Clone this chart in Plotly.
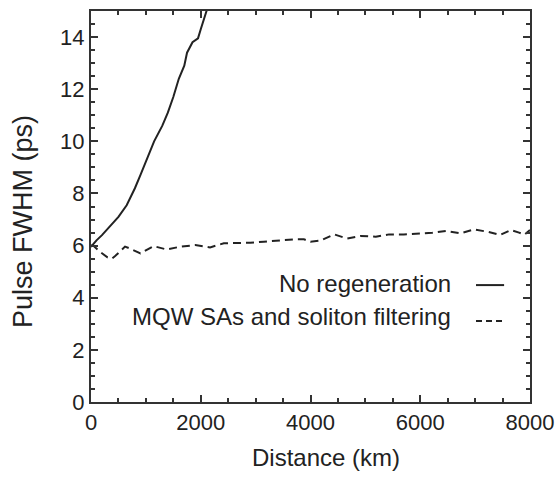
import plotly.graph_objects as go

# Pulse width versus transmission distance
dist_noreg = [0, 100, 200, 350, 500, 650, 800, 900, 1000, 1150, 1300, 1400,
              1500, 1600, 1700, 1750, 1850, 1950, 2000, 2120]
fwhm_noreg = [5.95, 6.2, 6.4, 6.75, 7.1, 7.55, 8.2, 8.7, 9.2, 10.0, 10.6, 11.1,
              11.7, 12.4, 12.9, 13.4, 13.8, 13.95, 14.3, 15.1]

dist_mqw = [0, 40, 160, 300, 380, 440, 620, 710, 900, 1140, 1380, 1630, 1900,
            2170, 2420, 2660, 2900, 3150, 3390, 3700, 3880, 4000, 4180, 4430,
            4670, 4910, 5190, 5430, 5700, 5980, 6220, 6470, 6740, 6980, 7230,
            7460, 7650, 7800, 7900, 8000]
fwhm_mqw = [6.0, 6.0, 5.77, 5.55, 5.5, 5.6, 5.96, 5.89, 5.7, 5.98, 5.85, 5.96,
            6.02, 5.93, 6.09, 6.09, 6.11, 6.15, 6.19, 6.24, 6.24, 6.15, 6.19,
            6.43, 6.27, 6.37, 6.34, 6.43, 6.43, 6.47, 6.49, 6.56, 6.47, 6.62,
            6.53, 6.41, 6.6, 6.5, 6.42, 6.6]

legend_labels = ["No regeneration", "MQW SAs and soliton filtering"]

x_ticks = [0, 2000, 4000, 6000, 8000]
y_ticks = [0, 2, 4, 6, 8, 10, 12, 14]

x_title = "Distance (km)"
y_title = "Pulse FWHM (ps)"

INK = "#222222"
AXIS = "#333333"
FONT = "Liberation Sans, Arial, sans-serif"

fig = go.Figure()
fig.add_trace(go.Scatter(x=dist_noreg, y=fwhm_noreg, mode="lines",
                         line=dict(color=INK, width=2), showlegend=False))
fig.add_trace(go.Scatter(x=dist_mqw, y=fwhm_mqw, mode="lines",
                         line=dict(color=INK, width=2, dash="8px,5px"),
                         showlegend=False))

# Legend: text on the left, line sample on the right
text_y = [0.303, 0.219]
sample_y = [0.299, 0.207]
dashes = ["solid", "6px,4px"]
for label, ty, sy, dsh in zip(legend_labels, text_y, sample_y, dashes):
    fig.add_annotation(x=0.8235, y=ty, xref="paper", yref="paper", text=label,
                       showarrow=False, xanchor="right", yanchor="middle",
                       font=dict(family=FONT, size=24, color=INK))
    fig.add_shape(type="line", xref="paper", yref="paper",
                  x0=0.877, x1=0.941, y0=sy, y1=sy,
                  line=dict(color=INK, width=2, dash=dsh))

# Axis titles
fig.add_annotation(x=0.535, y=-0.141, xref="paper", yref="paper",
                   text=x_title, showarrow=False, xanchor="center",
                   yanchor="middle", font=dict(family=FONT, size=24, color=INK))
fig.add_annotation(x=-0.155, y=0.463, xref="paper", yref="paper",
                   text=y_title, showarrow=False, textangle=-90,
                   xanchor="center", yanchor="middle",
                   font=dict(family=FONT, size=27, color=INK))

axis_common = dict(
    showgrid=False, zeroline=False, showline=True, linecolor=AXIS,
    linewidth=2, mirror="ticks", ticks="inside", ticklen=7, tickwidth=1.5,
    tickcolor=AXIS, tickfont=dict(family=FONT, size=22, color=INK),
    automargin=False,
)

fig.update_xaxes(range=[0, 8000], tickvals=x_ticks,
                 minor=dict(dtick=500, ticks="inside", ticklen=4,
                            tickwidth=1.5, tickcolor=AXIS),
                 **axis_common)
fig.update_yaxes(range=[0, 15], tickvals=y_ticks,
                 minor=dict(dtick=0.5, ticks="inside", ticklen=4,
                            tickwidth=1.5, tickcolor=AXIS),
                 **axis_common)

fig.update_layout(
    width=556, height=479,
    margin=dict(l=91, r=26, t=11, b=77),
    paper_bgcolor="white", plot_bgcolor="white",
    font=dict(family=FONT, color=INK),
)

fig.write_html("out.html")
